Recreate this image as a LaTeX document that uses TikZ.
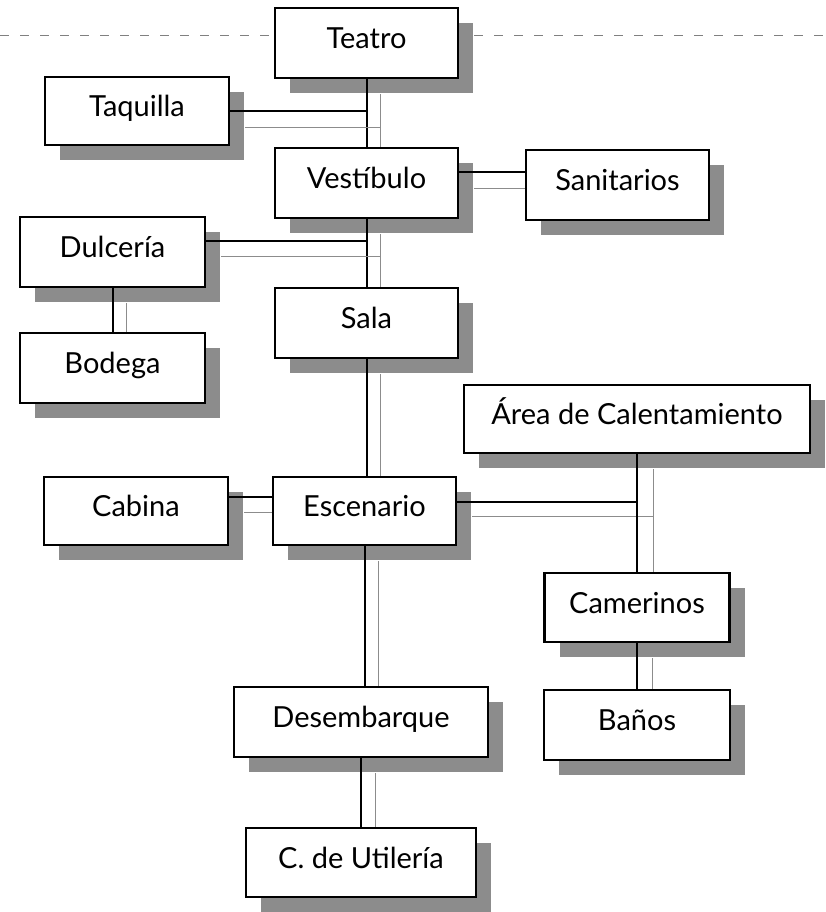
\documentclass[tikz,border=0pt]{standalone}
\usepackage{fontspec}
\setmainfont{Lato}
\usetikzlibrary{calc,shadows}

\tikzset{
  room/.style={draw=black, line width=2.2pt, fill=white, inner sep=0pt,
    text height=21pt, text depth=10pt,
    font=\fontsize{29}{32}\selectfont,
    drop shadow={shadow xshift=15pt, shadow yshift=-15pt, fill=black!45, opacity=1}},
  strong/.style={draw=black, line width=2pt},
  faint/.style={draw=black!45, line width=0.9pt},
  guide/.style={draw=black!50, line width=0.8pt, dash pattern=on 9pt off 11pt}
}

\begin{document}
\begin{tikzpicture}[x=1pt,y=-1pt]
\useasboundingbox (0,0) rectangle (826,912);

% rooms
\node[room, minimum width=183pt, minimum height=70pt] (teatro)      at (366.5,43)  {Teatro};
\node[room, minimum width=184pt, minimum height=68pt] (taquilla)    at (137,111)   {Taquilla};
\node[room, minimum width=183pt, minimum height=70pt] (vestibulo)   at (366.5,183) {Vestíbulo};
\node[room, minimum width=183pt, minimum height=70pt] (sanitarios)  at (617.5,185) {Sanitarios};
\node[room, minimum width=185pt, minimum height=70pt] (dulceria)    at (112.5,252) {Dulcería};
\node[room, minimum width=183pt, minimum height=70pt] (sala)        at (366.5,323) {Sala};
\node[room, minimum width=185pt, minimum height=70pt] (bodega)      at (112.5,368) {Bodega};
\node[room, minimum width=346pt, minimum height=68pt] (area)        at (637,419)   {Área de Calentamiento};
\node[room, minimum width=184pt, minimum height=68pt] (cabina)      at (136,511)   {Cabina};
\node[room, minimum width=183pt, minimum height=68pt] (escenario)   at (364.5,511) {Escenario};
\node[room, minimum width=185pt, minimum height=69pt] (camerinos)   at (637,607.5) {Camerinos};
\node[room, minimum width=186pt, minimum height=70pt] (banos)       at (637,725)   {Baños};
\node[room, minimum width=254pt, minimum height=70pt] (desembarque) at (361,722)   {Desembarque};
\node[room, minimum width=230pt, minimum height=69pt] (utileria)    at (361,862.5) {C. de Utilería};

% guide line through the top box
\coordinate (gleft)  at (0,35);
\coordinate (gright) at (826,35);
\draw[guide] (gleft) -- (gleft -| teatro.west);
\draw[guide] ($(gright -| teatro.east)+(15,0)$) -- (gright);

% main column
\draw[strong] (teatro.south) -- (vestibulo.north);
\draw[faint]  ($(teatro.south)+(14,15)$) -- ($(vestibulo.north)+(14,0)$);
\draw[strong] (vestibulo.south) -- (sala.north);
\draw[faint]  ($(vestibulo.south)+(14,15)$) -- ($(sala.north)+(14,0)$);
\draw[strong] (sala.south) -- (escenario.north -| sala.south);
\draw[faint]  ($(sala.south)+(14,15)$) -- ($(escenario.north -| sala.south)+(14,0)$);
\draw[strong] (escenario.south) -- (desembarque.north -| escenario.south);
\draw[faint]  ($(escenario.south)+(14,15)$) -- ($(desembarque.north -| escenario.south)+(14,0)$);
\draw[strong] (desembarque.south) -- (utileria.north);
\draw[faint]  ($(desembarque.south)+(14,15)$) -- ($(utileria.north)+(14,0)$);

% side branches
\draw[strong] (taquilla.east) -- (taquilla.east -| teatro.south);
\draw[faint]  ($(taquilla.east)+(15,16)$) -- ($(taquilla.east -| teatro.south)+(14,16)$);
\draw[strong] ($(vestibulo.east)+(0,-11)$) -- ($(sanitarios.west |- vestibulo.east)+(0,-11)$);
\draw[faint]  ($(vestibulo.east)+(15,5)$) -- ($(sanitarios.west |- vestibulo.east)+(0,5)$);
\draw[strong] ($(dulceria.east)+(0,-11)$) -- ($(dulceria.east -| vestibulo.south)+(0,-11)$);
\draw[faint]  ($(dulceria.east)+(15,4)$) -- ($(dulceria.east -| vestibulo.south)+(14,4)$);
\draw[strong] (dulceria.south) -- (bodega.north);
\draw[faint]  ($(dulceria.south)+(14,15)$) -- ($(bodega.north)+(14,0)$);
\draw[strong] ($(cabina.east)+(0,-14)$) -- ($(escenario.west)+(0,-14)$);
\draw[faint]  ($(cabina.east)+(15,1)$) -- ($(escenario.west)+(0,1)$);
\draw[strong] ($(escenario.east)+(0,-9)$) -- ($(escenario.east -| area.south)+(0,-9)$);
\draw[faint]  ($(escenario.east)+(15,5)$) -- ($(escenario.east -| area.south)+(16,5)$);
\draw[strong] (area.south) -- (camerinos.north -| area.south);
\draw[faint]  ($(area.south)+(16,15)$) -- ($(camerinos.north -| area.south)+(16,0)$);
\draw[strong] (camerinos.south) -- (banos.north);
\draw[faint]  ($(camerinos.south)+(15,15)$) -- ($(banos.north)+(15,0)$);
\end{tikzpicture}
\end{document}
